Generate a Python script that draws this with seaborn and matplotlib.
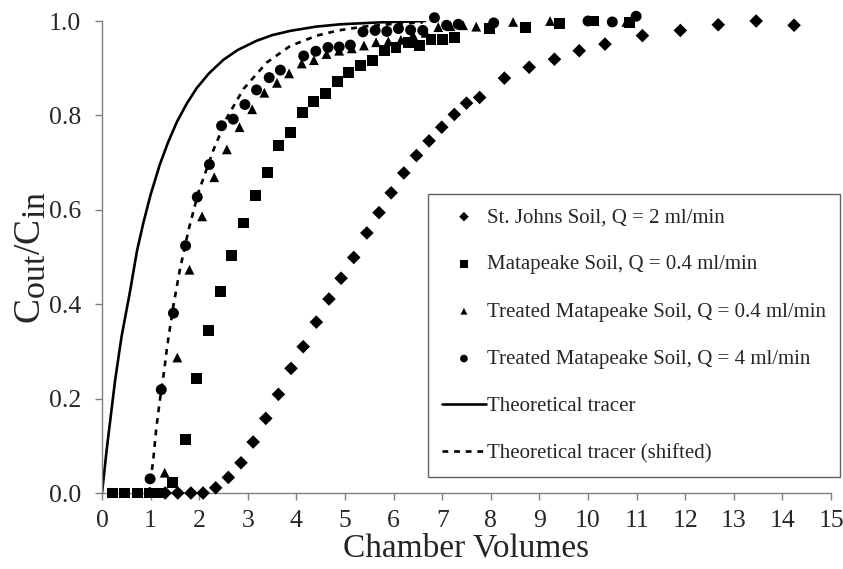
import numpy as np
import pandas as pd
import matplotlib
matplotlib.use("Agg")
import matplotlib.pyplot as plt
import seaborn as sns

try:
    import matplotlib._mathtext as _mt
    _mt.SHRINK_FACTOR = 0.9
except Exception:
    pass

# ---------------- data ----------------
stjohns_x = [1.30, 1.56, 1.83, 2.08, 2.34, 2.60, 2.86, 3.11, 3.37, 3.63, 3.89, 4.14, 4.41, 4.67,
             4.92, 5.18, 5.45, 5.70, 5.95, 6.21, 6.47, 6.73, 6.99, 7.25, 7.50, 7.77, 8.28, 8.79,
             9.31, 9.82, 10.35, 11.12, 11.90, 12.68, 13.46, 14.24]
stjohns_y = [0.0, 0.0, 0.0, 0.0, 0.011, 0.033, 0.064, 0.108, 0.158, 0.209, 0.264, 0.310, 0.362, 0.411,
             0.455, 0.499, 0.551, 0.594, 0.636, 0.678, 0.715, 0.746, 0.775, 0.802, 0.826, 0.838, 0.879, 0.902,
             0.919, 0.937, 0.951, 0.969, 0.980, 0.992, 1.000, 0.991]

mata_x = [0.22, 0.47, 0.73, 0.97, 1.21, 1.45, 1.71, 1.95, 2.19, 2.43, 2.67, 2.91, 3.16, 3.40, 3.63,
          3.87, 4.12, 4.36, 4.60, 4.84, 5.08, 5.32, 5.57, 5.82, 6.05, 6.30, 6.53, 6.77, 7.00, 7.25,
          7.98, 8.71, 9.42, 10.11, 10.86]
mata_y = [0.0, 0.0, 0.0, 0.0, 0.0, 0.022, 0.114, 0.242, 0.345, 0.427, 0.503, 0.572, 0.630, 0.679, 0.736,
          0.764, 0.807, 0.829, 0.846, 0.871, 0.891, 0.905, 0.917, 0.937, 0.943, 0.954, 0.949, 0.960, 0.961, 0.966,
          0.985, 0.986, 0.994, 1.000, 0.996]

treat04_x = [1.03, 1.29, 1.55, 1.80, 2.06, 2.31, 2.57, 2.83, 3.09, 3.34, 3.60, 3.85, 4.11, 4.36, 4.62,
             4.88, 5.14, 5.39, 5.64, 5.89, 6.15, 6.40, 6.66, 6.92, 7.17, 7.43, 7.70, 7.98, 8.46, 9.22, 10.79]
treat04_y = [0.0, 0.043, 0.287, 0.473, 0.586, 0.669, 0.728, 0.775, 0.813, 0.848, 0.869, 0.889, 0.910, 0.917, 0.930,
             0.937, 0.942, 0.948, 0.955, 0.957, 0.960, 0.970, 0.975, 0.987, 0.989, 0.991, 0.988, 0.987, 0.998, 1.000, 0.998]

treat4_x = [0.99, 1.22, 1.47, 1.72, 1.96, 2.21, 2.46, 2.70, 2.94, 3.18, 3.44, 3.67, 4.15, 4.40, 4.65,
            4.88, 5.11, 5.37, 5.62, 5.86, 6.10, 6.35, 6.60, 6.84, 7.09, 7.33, 8.06, 10.00, 10.50, 10.99]
treat4_y = [0.030, 0.219, 0.381, 0.524, 0.627, 0.696, 0.778, 0.792, 0.823, 0.854, 0.880, 0.896, 0.926, 0.936, 0.944,
            0.945, 0.949, 0.977, 0.980, 0.978, 0.984, 0.981, 0.980, 1.007, 0.991, 0.993, 0.996, 1.000, 0.998, 1.010]

theo_x = [0.0, 0.10, 0.27, 0.40, 0.58, 0.72, 0.85, 1.00, 1.19, 1.36, 1.54, 1.75, 1.95, 2.20, 2.50,
          2.80, 3.18, 3.50, 3.87, 4.40, 4.90, 5.70, 6.65]
theo_y = [0.0, 0.095, 0.239, 0.33, 0.429, 0.513, 0.572, 0.632, 0.696, 0.743, 0.786, 0.826, 0.858, 0.889, 0.918,
          0.939, 0.958, 0.970, 0.979, 0.988, 0.993, 0.997, 1.0]

shift_x = [0.97, 1.06, 1.12, 1.19, 1.28, 1.34, 1.47, 1.60, 1.78, 1.98, 2.29, 2.57, 2.91, 3.39, 3.87,
           4.42, 4.86, 5.38, 6.00, 6.60]
shift_y = [0.0, 0.076, 0.140, 0.196, 0.260, 0.310, 0.398, 0.472, 0.557, 0.636, 0.726, 0.795, 0.856, 0.912, 0.947,
           0.969, 0.980, 0.988, 0.994, 0.997]

labels = ["St. Johns Soil, Q = 2 ml/min",
          "Matapeake Soil, Q = 0.4 ml/min",
          "Treated Matapeake Soil, Q = 0.4 ml/min",
          "Treated Matapeake Soil, Q = 4 ml/min",
          "Theoretical tracer",
          "Theoretical tracer (shifted)"]

x_ticks = list(range(0, 16))
y_ticks = [0.0, 0.2, 0.4, 0.6, 0.8, 1.0]

# ---------------- style ----------------
sns.set_theme(style="white")
plt.rcParams["font.family"] = ["Liberation Serif", "DejaVu Serif"]
plt.rcParams["mathtext.fontset"] = "custom"
plt.rcParams["mathtext.rm"] = "Liberation Serif"
plt.rcParams["mathtext.it"] = "Liberation Serif:italic"

fig = plt.figure(figsize=(8.43, 5.69), dpi=100)
ax = fig.add_axes([102 / 843, 1 - 493 / 569, (831 - 102) / 843, (493 - 21) / 569])

series = [
    (stjohns_x, stjohns_y, "D", 48, labels[0]),
    (mata_x, mata_y, "s", 62, labels[1]),
    (treat04_x, treat04_y, "^", 50, labels[2]),
    (treat4_x, treat4_y, "o", 62, labels[3]),
]
for xs, ys, mk, sz, lab in series:
    df = pd.DataFrame({"x": xs, "y": ys})
    sns.scatterplot(data=df, x="x", y="y", marker=mk, s=sz, color="black",
                    edgecolor="none", linewidth=0, ax=ax, label=lab, clip_on=False, zorder=3)

df_t = pd.DataFrame({"x": theo_x, "y": theo_y})
sns.lineplot(data=df_t, x="x", y="y", color="black", linewidth=1.9, sort=False,
             ax=ax, label=labels[4], zorder=2)
df_s = pd.DataFrame({"x": shift_x, "y": shift_y})
sns.lineplot(data=df_s, x="x", y="y", color="black", linewidth=1.9, sort=False,
             ax=ax, label=labels[5], zorder=2)
ax.lines[-1].set_dashes([2.2, 2.2])

ax.set_xlim(0, 15)
ax.set_ylim(0, 1.0)
ax.set_xticks(x_ticks)
ax.set_yticks(y_ticks)
ax.set_xticklabels([str(t) for t in x_ticks])
ax.set_yticklabels([f"{t:.1f}" for t in y_ticks])
ax.tick_params(axis="both", direction="out", length=5, width=1, color="#808080",
               labelsize=18.5, bottom=True, left=True)
ax.tick_params(axis="x", pad=7)
ax.tick_params(axis="y", pad=10)
for side in ["top", "right"]:
    ax.spines[side].set_visible(False)
for side in ["left", "bottom"]:
    ax.spines[side].set_color("#808080")
    ax.spines[side].set_linewidth(1)

ax.set_xlabel("Chamber Volumes", fontsize=24, labelpad=1)
ax.set_ylabel(r"C$_{\mathrm{out}}$/C$_{\mathrm{in}}$", fontsize=27, labelpad=0)

handles, labs = ax.get_legend_handles_labels()
leg = ax.legend(handles, labs, loc="upper left",
                bbox_to_anchor=(428 / 843, 1 - 194 / 569), bbox_transform=fig.transFigure,
                fontsize=15, frameon=True, fancybox=False, framealpha=1,
                edgecolor="#606060", borderaxespad=0, borderpad=0.65,
                labelspacing=1.33, handlelength=2.15, handletextpad=0.05, markerscale=0.7)
leg.get_frame().set_linewidth(1)

fig.savefig("out.png", dpi=100)
